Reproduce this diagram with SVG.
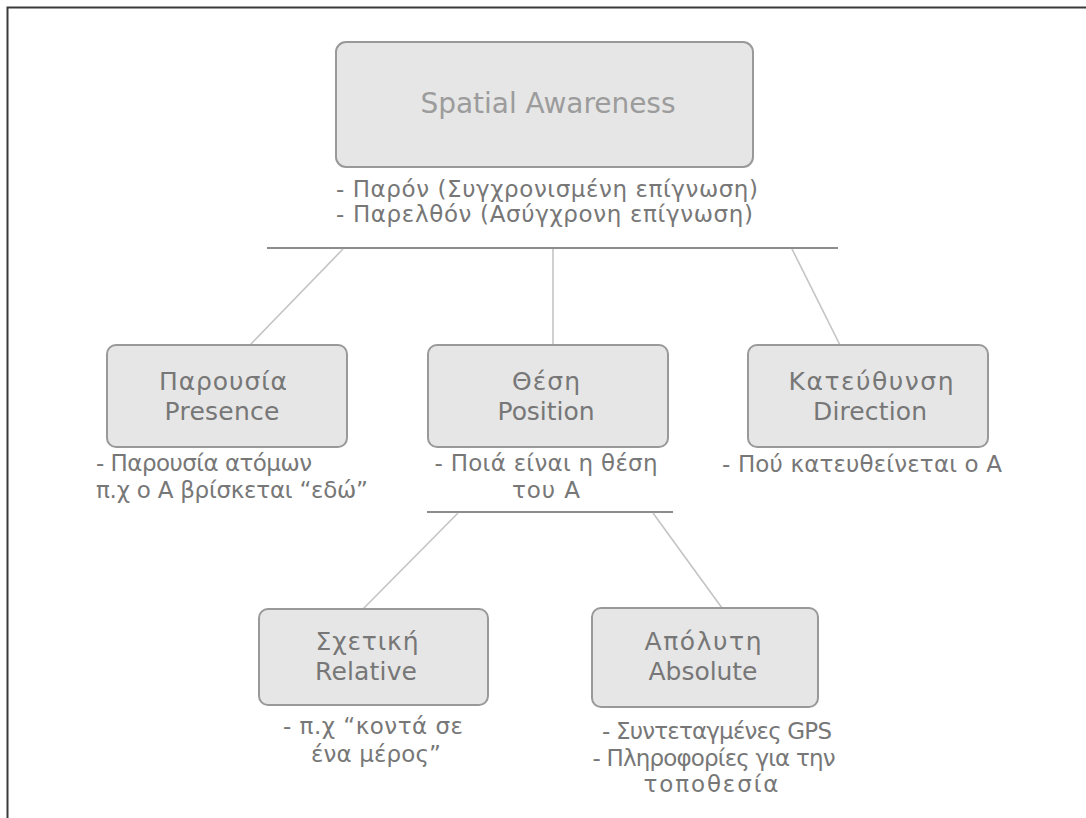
<svg xmlns="http://www.w3.org/2000/svg" width="1086" height="818" viewBox="0 0 1086 818">
  <style>
    .box { fill: #e6e6e6; stroke: #999999; stroke-width: 2; }
    .t { font-family: "DejaVu Sans", Verdana, sans-serif; fill: #777777; text-anchor: middle; }
    .title { font-size: 28px; fill: #9c9c9c; }
    .name { font-size: 25px; }
    .note { font-size: 23px; }
    .left { text-anchor: start; }
    .bar { stroke: #8c8c8c; stroke-width: 2; fill: none; }
    .link { stroke: #c4c4c4; stroke-width: 1.6; fill: none; }
  </style>

  <rect x="0" y="0" width="1086" height="818" fill="#ffffff"/>
  <!-- frame (top and left edges) -->
  <path d="M7.5 818 V7.5 H1086" fill="none" stroke="#3a3a3a" stroke-width="2"/>

  <g id="connectors">
    <line class="bar" x1="267" y1="248" x2="838" y2="248"/>
    <line class="link" x1="343" y1="249" x2="250" y2="345"/>
    <line class="link" x1="553" y1="249" x2="553" y2="345"/>
    <line class="link" x1="792" y1="249" x2="840" y2="345"/>
    <line class="bar" x1="427" y1="512" x2="673" y2="512"/>
    <line class="link" x1="458" y1="513" x2="363" y2="609"/>
    <line class="link" x1="653" y1="513" x2="722" y2="608"/>
  </g>

  <g id="spatial-awareness">
    <rect class="box" x="336" y="42" width="417" height="125" rx="10"/>
    <text class="t title" x="548" y="113" textLength="255">Spatial Awareness</text>
    <text class="t note left" x="336" y="197" textLength="422">- Παρόν (Συγχρονισμένη επίγνωση)</text>
    <text class="t note left" x="336" y="222" textLength="417">- Παρελθόν (Ασύγχρονη επίγνωση)</text>
  </g>

  <g id="presence">
    <rect class="box" x="107" y="345" width="240" height="102" rx="9"/>
    <text class="t name" x="223" y="390" textLength="128">Παρουσία</text>
    <text class="t name" x="222" y="420" textLength="115">Presence</text>
    <text class="t note left" x="96" y="471" textLength="216">- Παρουσία ατόμων</text>
    <text class="t note left" x="96" y="498" textLength="272">π.χ ο Α βρίσκεται “εδώ”</text>
  </g>

  <g id="position">
    <rect class="box" x="428" y="345" width="240" height="102" rx="9"/>
    <text class="t name" x="546" y="390" textLength="68">Θέση</text>
    <text class="t name" x="546" y="420" textLength="97">Position</text>
    <text class="t note" x="546" y="471" textLength="223">- Ποιά είναι η θέση</text>
    <text class="t note" x="546" y="498" textLength="68">του Α</text>
  </g>

  <g id="direction">
    <rect class="box" x="748" y="345" width="240" height="102" rx="9"/>
    <text class="t name" x="871" y="390" textLength="165">Κατεύθυνση</text>
    <text class="t name" x="870" y="420" textLength="114">Direction</text>
    <text class="t note left" x="722" y="472" textLength="280">- Πού κατευθείνεται ο Α</text>
  </g>

  <g id="relative">
    <rect class="box" x="259" y="609" width="229" height="96" rx="9"/>
    <text class="t name" x="367" y="650" textLength="103">Σχετική</text>
    <text class="t name" x="366" y="680" textLength="102">Relative</text>
    <text class="t note" x="373" y="734" textLength="180">- π.χ “κοντά σε</text>
    <text class="t note" x="376" y="762" textLength="130">ένα μέρος”</text>
  </g>

  <g id="absolute">
    <rect class="box" x="592" y="608" width="226" height="99" rx="9"/>
    <text class="t name" x="703" y="650" textLength="117">Απόλυτη</text>
    <text class="t name" x="703" y="680" textLength="109">Absolute</text>
    <text class="t note" x="717" y="739" textLength="230">- Συντεταγμένες GPS</text>
    <text class="t note" x="714" y="766" textLength="243">- Πληροφορίες για την</text>
    <text class="t note" x="711" y="792" textLength="135">τοποθεσία</text>
  </g>
</svg>
